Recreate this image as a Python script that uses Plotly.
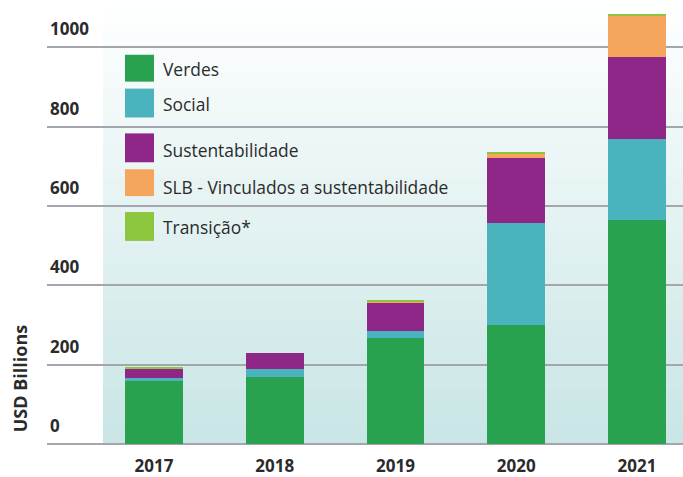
import plotly.graph_objects as go

years = ["2017", "2018", "2019", "2020", "2021"]
verdes = [158, 170, 266, 301, 564]
social = [9, 19, 20, 255, 206]
sustentabilidade = [23, 41, 70, 166, 205]
slb = [0, 0, 4, 11, 106]
transicao = [2, 0, 2, 4, 4]

series_names = ["Verdes", "Social", "Sustentabilidade",
                "SLB - Vinculados a sustentabilidade", "Transição*"]
series_values = [verdes, social, sustentabilidade, slb, transicao]
colors = ["#29a24f", "#4bb3bd", "#8e2787", "#f6a65c", "#8cc63f"]

y_ticks = [0, 200, 400, 600, 800, 1000]

fig = go.Figure()
for name, vals, col in zip(series_names, series_values, colors):
    fig.add_trace(go.Bar(x=years, y=vals, name=name, marker_color=col,
                         marker_line_width=0, showlegend=False))

W, H = 683, 477
ml, mb = 47, 31
pw, ph = W - ml, H - mb

shapes = []
# gradient background (white top -> light teal bottom)
n = 40
top_c = (255, 255, 255)
bot_c = (200, 229, 229)
x0 = (103 - ml) / pw
for i in range(n):
    t = (i + 0.5) / n  # 0 bottom, 1 top
    c = tuple(int(round(bot_c[k] + (top_c[k] - bot_c[k]) * t)) for k in range(3))
    shapes.append(dict(type="rect", xref="paper", yref="paper",
                       x0=x0, x1=1, y0=i / n, y1=(i + 1) / n + 0.002,
                       fillcolor="rgb(%d,%d,%d)" % c, line_width=0, layer="below"))

annotations = []
# manual legend
box_tops = [55, 89, 134, 170, 213]
box_bots = [82, 118, 163, 197, 242]
text_y = [69, 104, 151, 188, 228]
for name, col, bt, bb, ty in zip(series_names, colors, box_tops, box_bots, text_y):
    shapes.append(dict(type="rect", xref="paper", yref="paper",
                       x0=(125 - ml) / pw, x1=(154 - ml) / pw,
                       y0=(ph - bb) / ph, y1=(ph - bt) / ph,
                       fillcolor=col, line_width=0, layer="above"))
    annotations.append(dict(xref="paper", yref="paper",
                            x=(161 - ml) / pw, y=(ph - ty) / ph,
                            xanchor="left", yanchor="middle", showarrow=False,
                            text=name,
                            font=dict(family="Open Sans", size=17.4, color="#2b2b2b")))

annotations.append(dict(xref="paper", yref="paper",
                        x=(20 - ml) / pw, y=(ph - 380) / ph,
                        xanchor="center", yanchor="middle", showarrow=False,
                        textangle=-90, text="<b>USD Billions</b>",
                        font=dict(family="Open Sans", size=18, color="#2b2b2b")))

fig.update_layout(
    barmode="stack",
    bargap=0.52,
    width=W, height=H,
    margin=dict(l=ml, r=0, t=0, b=mb),
    plot_bgcolor="white",
    paper_bgcolor="white",
    shapes=shapes,
    annotations=annotations,
    showlegend=False,
)
fig.update_xaxes(type="category", range=[-0.886, 4.381], showgrid=False,
                 showline=False, ticks="", zeroline=False,
                 tickfont=dict(family="Open Sans", size=17, color="#2b2b2b", weight="bold"),
                 ticklabelstandoff=10)
fig.update_yaxes(range=[0, ph / 0.3985], tickvals=y_ticks,
                 ticktext=[str(v) for v in y_ticks],
                 showgrid=True, gridcolor="#a5a5ad", gridwidth=2,
                 zeroline=True, zerolinecolor="#a5a5ad", zerolinewidth=2,
                 showline=False, ticks="",
                 ticklabelposition="inside top", ticklabelshift=-6,
                 tickfont=dict(family="Open Sans", size=17, color="#2b2b2b", weight="bold"))

fig.write_html("out.html")
